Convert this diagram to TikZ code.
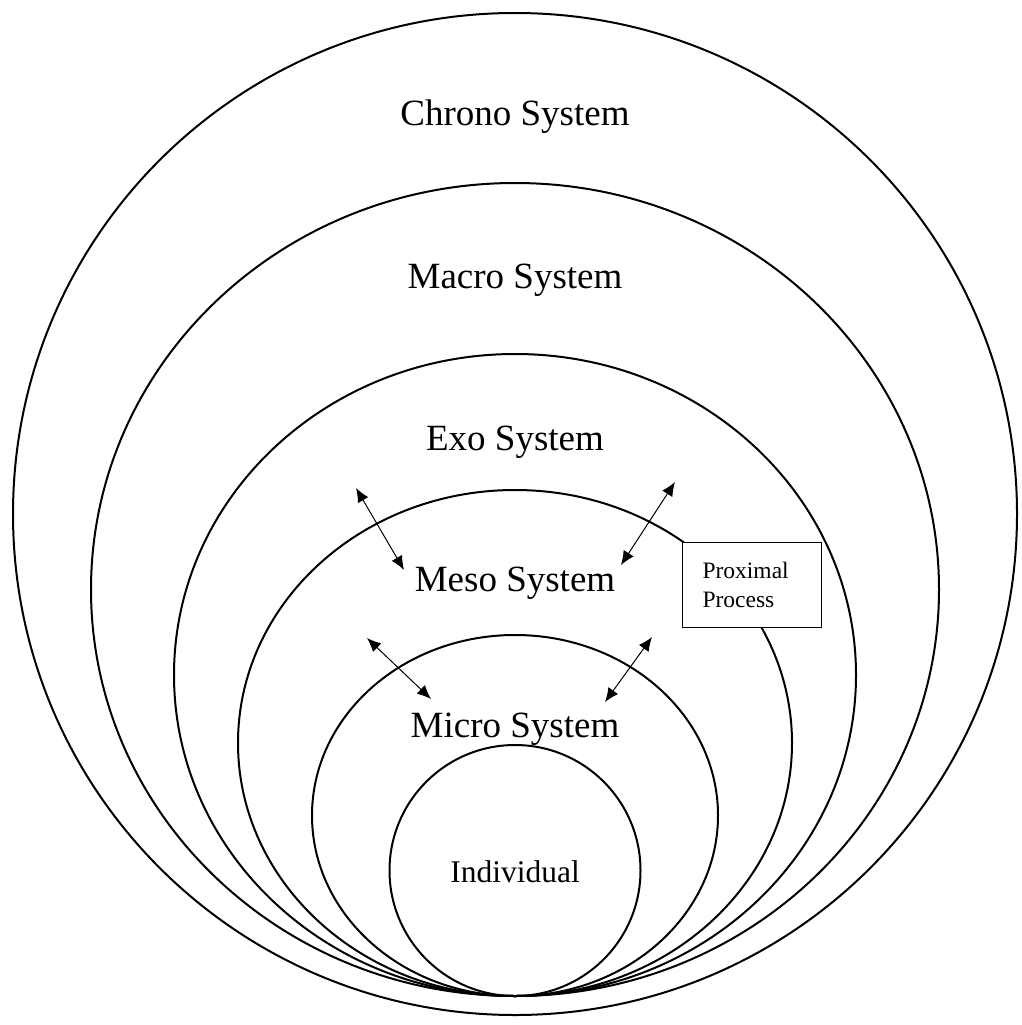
\documentclass[tikz,border=0pt]{standalone}
\usepackage{fontspec}
\setmainfont{Liberation Serif}
\usetikzlibrary{shapes.geometric,arrows.meta}
\tikzset{
  sphere/.style={ellipse, draw, line width=2pt, inner sep=0pt, outer sep=0pt},
  lbl/.style={anchor=base, inner sep=0pt, font=\fontsize{37pt}{44pt}\selectfont},
  dbl/.style={line width=1pt, {Latex[length=14pt,width=12pt]}-{Latex[length=14pt,width=12pt]}},
  ppbox/.style={draw, line width=1.1pt, fill=white, anchor=north west, minimum width=139pt, minimum height=85pt,
     inner xsep=20pt, inner ysep=0pt, text width=99pt, align=left, font=\fontsize{23.5pt}{29pt}\selectfont}
}
\begin{document}
\begin{tikzpicture}[x=1pt,y=-1pt]
\useasboundingbox (0,0) rectangle (1021,1025);
\fill[white] (0,0) rectangle (1021,1025);
% nested systems
\node[sphere, minimum width=1004pt, minimum height=1002pt] (chrono) at (515,514) {};
\node[sphere, minimum width=848pt, minimum height=813pt] (macro) at (515,589.5) {};
\node[sphere, minimum width=682pt, minimum height=642pt] (exo) at (515,675) {};
\node[sphere, minimum width=554pt, minimum height=506pt] (meso) at (515,743) {};
\node[sphere, minimum width=406pt, minimum height=361pt] (micro) at (515,815.5) {};
\node[sphere, minimum width=251pt, minimum height=251pt] (indiv) at (515,870.5) {};
% proximal process box
\node[ppbox] (pp) at (682,542) {Proximal\\Process};
% labels
\node[lbl] (tchrono) at (515,125) {Chrono System};
\node[lbl] (tmacro) at (515,288) {Macro System};
\node[lbl] (texo) at (515,450) {Exo System};
\node[lbl] (tmeso) at (515,591) {Meso System};
\node[lbl] (tmicro) at (515,737) {Micro System};
\node[lbl, font=\fontsize{31.5pt}{38pt}\selectfont] (tindiv) at (515,882) {Individual};
% arrows
\coordinate (a1s) at (356,488); \coordinate (a1e) at (404,570);
\coordinate (a2s) at (675,482); \coordinate (a2e) at (621,565);
\coordinate (a3s) at (367,638); \coordinate (a3e) at (431,699);
\coordinate (a4s) at (652,637); \coordinate (a4e) at (605,702);
\draw[dbl] (a1s) -- (a1e);
\draw[dbl] (a2s) -- (a2e);
\draw[dbl] (a3s) -- (a3e);
\draw[dbl] (a4s) -- (a4e);
\end{tikzpicture}
\end{document}
